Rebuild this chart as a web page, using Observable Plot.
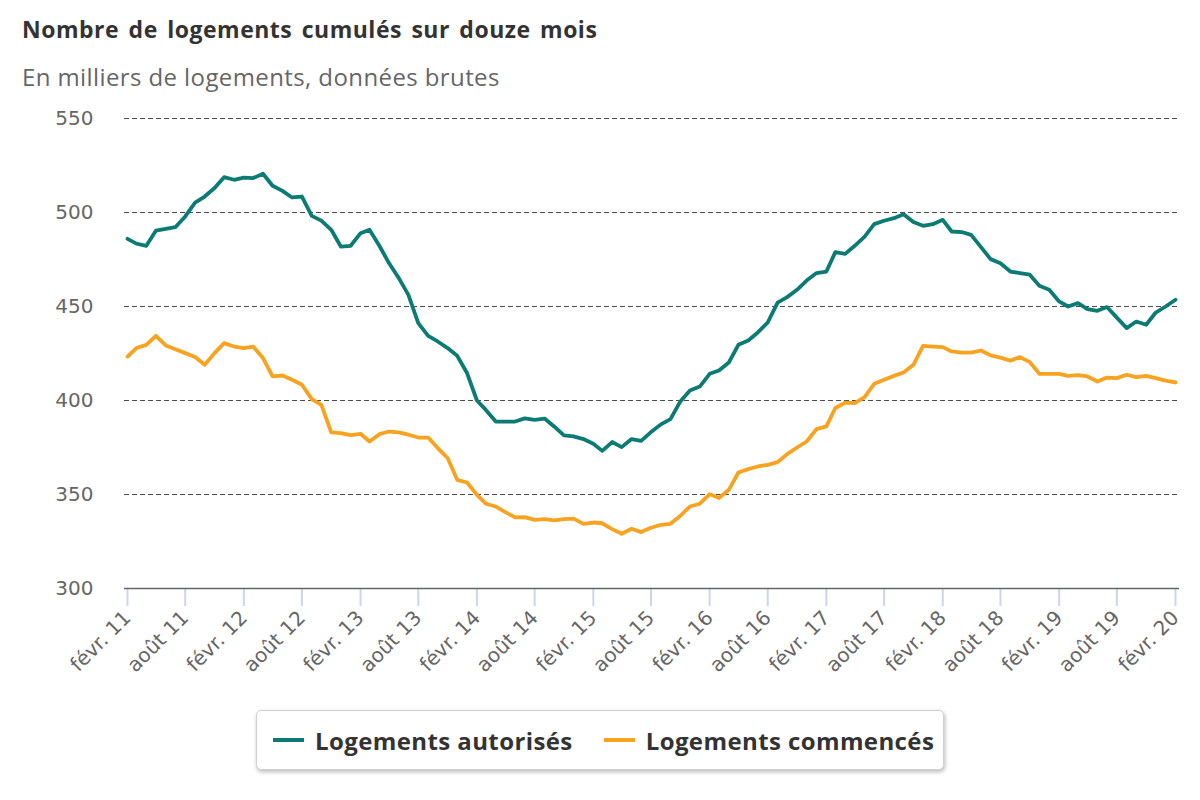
<!DOCTYPE html>
<html><head><meta charset="utf-8">
<script src="https://cdn.jsdelivr.net/npm/d3@7"></script>
<script src="https://cdn.jsdelivr.net/npm/@observablehq/plot@0.6"></script>
<style>
body{margin:0;background:#fff;}
#wrap{position:relative;width:1200px;height:800px;overflow:hidden;background:#fff;font-family:"Open Sans",sans-serif;}
#title{position:absolute;left:22px;top:13px;font-size:23px;font-weight:bold;color:#333;white-space:nowrap;letter-spacing:0.5px;word-spacing:3px;}
#subtitle{position:absolute;left:22px;top:60px;font-size:24px;color:#666;white-space:nowrap;letter-spacing:0.4px;}
#chart{position:absolute;left:0;top:100px;}
#legend{position:absolute;left:256px;top:710px;width:688px;height:60px;box-sizing:border-box;border:1px solid #d0d0d0;border-radius:5px;box-shadow:1px 2px 4px rgba(0,0,0,0.28);background:#fff;display:flex;align-items:center;}
.item{display:flex;align-items:center;font-weight:bold;font-size:24px;letter-spacing:0.4px;color:#333;white-space:nowrap;}
.sw{display:inline-block;width:31px;height:4px;margin-right:11px;}
</style></head>
<body><div id="wrap">
<div id="title">Nombre de logements cumulés sur douze mois</div>
<div id="subtitle">En milliers de logements, données brutes</div>
<div id="chart"></div>
<div id="legend"></div>
</div>
<script>
// Monthly series, février 2011 -> février 2020 (109 months)
const startYear = 2011, startMonth = 1; // février 2011 (0-based month)
const seriesNames = ["Logements autorisés", "Logements commencés"];
const seriesColors = ["#0b7b73", "#f8a31f"];

const autorises = [
  486, 483.4, 482.3, 490.3, 491.3, 492.2, 497.9, 505.3, 508.5, 513,
  518.8, 517.4, 518.6, 518.3, 520.6, 514.2, 511.5, 508, 508.5, 498.2,
  495.7, 490.8, 481.9, 482.3, 489, 490.8, 482.3, 473.1, 465.1, 456.2,
  441.2, 434.4, 431.4, 427.9, 423.8, 414.6, 400, 395, 388.8, 388.8,
  388.8, 390.5, 389.7, 390.4, 386.2, 381.4, 380.9, 379.5, 377, 373.2,
  377.9, 375.2, 379.5, 378.5, 383.2, 387.3, 390.1, 399.5, 405.3, 407.4,
  414.2, 416, 420.2, 429.6, 431.9, 436.2, 441.5, 452.1, 455, 458.9,
  463.8, 467.8, 468.6, 478.9, 478, 482.3, 487.2, 493.8, 495.6, 497,
  499.1, 494.9, 492.9, 493.8, 496.1, 489.9, 489.6, 488.1, 481.6, 475.2,
  473, 468.6, 467.8, 466.9, 461, 458.9, 452.7, 450, 451.8, 448.6,
  447.7, 449.7, 444.1, 438.5, 442, 440.3, 446.8, 450, 453.6
];
const commences = [
  423.4, 427.9, 429.6, 434.4, 429.3, 427.3, 425.2, 423.1, 419, 425.2,
  430.5, 428.7, 427.9, 428.7, 422.6, 412.8, 413.3, 411, 408.4, 400.7,
  397.7, 383, 382.7, 381.6, 382.3, 378.2, 382.1, 383.5, 383, 381.8,
  380.3, 380.3, 374.7, 369.4, 357.8, 356.4, 349.8, 345.1, 343.6, 340.6,
  337.8, 338, 336.5, 336.9, 336.2, 336.9, 337.2, 334.4, 335.1, 334.7,
  331.6, 329.1, 331.8, 330, 332.3, 333.9, 334.4, 338.7, 343.6, 345.1,
  350.2, 348.1, 352.5, 361.7, 363.5, 364.9, 365.8, 367.2, 371.5, 375,
  378.2, 384.8, 386.2, 396, 398.9, 398.6, 401.8, 408.9, 411, 413.1,
  414.9, 419, 429.1, 428.7, 428.4, 426.1, 425.5, 425.5, 426.6, 424,
  422.8, 421.2, 423.1, 420.4, 414.2, 414.2, 414.2, 413.1, 413.5, 412.8,
  410.1, 412.2, 411.9, 413.7, 412.4, 413.1, 411.9, 410.6, 409.6
];
const tickLabels = ["févr. 11","août 11","févr. 12","août 12","févr. 13","août 13","févr. 14","août 14","févr. 15","août 15","févr. 16","août 16","févr. 17","août 17","févr. 18","août 18","févr. 19","août 19","févr. 20"];
const yTicks = [300, 350, 400, 450, 500, 550];
const gridValues = [350, 400, 450, 500, 550];

const monthDate = i => new Date(Date.UTC(startYear, startMonth + i, 1));
const rows = [];
[autorises, commences].forEach((arr, s) => arr.forEach((v, i) => rows.push({date: monthDate(i), value: v, serie: seriesNames[s]})));
const tickDates = tickLabels.map((_, k) => monthDate(k * 6));
const labelOf = new Map(tickDates.map((d, k) => [+d, tickLabels[k]]));

const chart = Plot.plot({
  width: 1200, height: 600,
  marginLeft: 124, marginRight: 21, marginTop: 18, marginBottom: 112,
  x: {type: "utc", domain: [tickDates[0], tickDates[tickDates.length - 1]], insetLeft: 3, insetRight: 4},
  y: {domain: [300, 550]},
  color: {domain: seriesNames, range: seriesColors},
  style: {fontFamily: "DejaVu Sans", fontSize: "20px", color: "#666", background: "white", overflow: "visible"},
  marks: [
    Plot.ruleY(gridValues, {stroke: "#4a4a4a", strokeWidth: 1, strokeDasharray: "5,3"}),
    Plot.axisY({ticks: yTicks, tickSize: 0, tickPadding: 31, fontSize: 20, fill: "#666", label: null}),
    Plot.axisX({ticks: tickDates, tickFormat: d => labelOf.get(+d), tickRotate: -45, tickSize: 18, tickPadding: 8, stroke: "#ccd6eb", strokeWidth: 2, fill: "#666", fontSize: 20, label: null}),
    Plot.ruleY([300], {stroke: "#666", strokeWidth: 1.5}),
    Plot.lineY(rows, {x: "date", y: "value", stroke: "serie", strokeWidth: 3.8, strokeLinejoin: "round", strokeLinecap: "round"})
  ]
});
document.getElementById("chart").appendChild(chart);

const legend = document.getElementById("legend");
seriesNames.forEach((n, s) => {
  const it = document.createElement("div");
  it.className = "item";
  it.style.marginLeft = s === 0 ? "16px" : "31px";
  const sw = document.createElement("span");
  sw.className = "sw"; sw.style.background = seriesColors[s];
  it.appendChild(sw);
  it.appendChild(document.createTextNode(n));
  legend.appendChild(it);
});
</script>
</body></html>
